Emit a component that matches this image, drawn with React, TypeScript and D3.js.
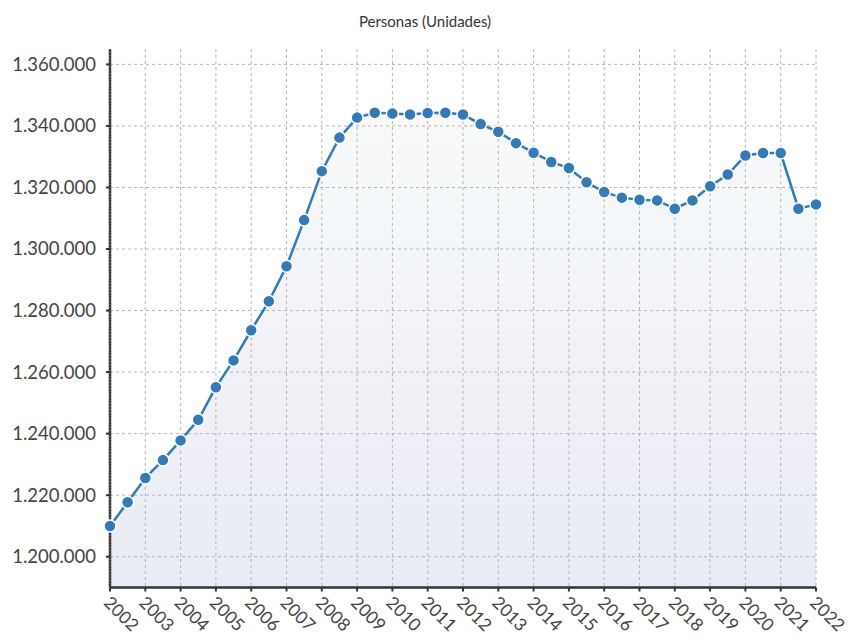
import { useMemo } from "react";
import * as d3 from "d3";

// semi-annual readings, first one at 2002, last one at 2022
const periods = [
  2002, 2002.5, 2003, 2003.5, 2004, 2004.5, 2005, 2005.5, 2006, 2006.5,
  2007, 2007.5, 2008, 2008.5, 2009, 2009.5, 2010, 2010.5, 2011, 2011.5,
  2012, 2012.5, 2013, 2013.5, 2014, 2014.5, 2015, 2015.5, 2016, 2016.5,
  2017, 2017.5, 2018, 2018.5, 2019, 2019.5, 2020, 2020.5, 2021, 2021.5, 2022,
];

const personas = [
  1210000, 1217700, 1225600, 1231400, 1237800, 1244500, 1255100, 1263800, 1273600, 1283000,
  1294400, 1309400, 1325300, 1336200, 1342700, 1344300, 1344000, 1343700, 1344200, 1344300,
  1343700, 1340600, 1338100, 1334400, 1331300, 1328300, 1326300, 1321700, 1318500, 1316700,
  1316000, 1315800, 1313100, 1315800, 1320400, 1324200, 1330400, 1331200, 1331200, 1313100, 1314500,
];

const yearTicks = d3.range(2002, 2023);
const valueTicks = [1200000, 1220000, 1240000, 1260000, 1280000, 1300000, 1320000, 1340000, 1360000];

const W = 849;
const H = 642;
const LEFT = 110;
const RIGHT = 816;
const TOP = 49;
const BOTTOM = 587.5;

const fmt = (v: number) => d3.format(",")(v).replace(/,/g, ".");

export default function App() {
  const x = useMemo(() => d3.scaleLinear().domain([2002, 2022]).range([LEFT, RIGHT]), []);
  const y = useMemo(() => d3.scaleLinear().domain([1190000, 1365000]).range([BOTTOM, TOP]), []);

  const pts = periods.map((p, i) => [p, personas[i]] as [number, number]);

  const line = d3
    .line<[number, number]>()
    .x((d) => x(d[0]))
    .y((d) => y(d[1]));

  const area = d3
    .area<[number, number]>()
    .x((d) => x(d[0]))
    .y0(BOTTOM)
    .y1((d) => y(d[1]));

  const font = "Lato, 'Open Sans', sans-serif";

  return (
    <svg
      width={W}
      height={H}
      style={{ position: "absolute", left: 0, top: 0, background: "#fff" }}
      fontFamily={font}
    >
      <defs>
        <linearGradient id="fillGrad" x1="0" y1="0" x2="0" y2="1">
          <stop offset="0%" stopColor="#f9f9f9" />
          <stop offset="25%" stopColor="#f3f7f9" />
          <stop offset="50%" stopColor="#f3f1f7" />
          <stop offset="100%" stopColor="#e8ecf5" />
        </linearGradient>
      </defs>

      <text x={425} y={27} textAnchor="middle" fontSize={15} fill="#333">
        Personas (Unidades)
      </text>

      <path d={area(pts) ?? ""} fill="url(#fillGrad)" />

      {/* grid */}
      {yearTicks.map((t) => (
        <line
          key={"gx" + t}
          x1={x(t)}
          x2={x(t)}
          y1={TOP}
          y2={BOTTOM}
          stroke="#b5b5b5"
          strokeDasharray="3,3"
        />
      ))}
      {valueTicks.map((v) => (
        <line
          key={"gy" + v}
          x1={LEFT}
          x2={RIGHT}
          y1={y(v)}
          y2={y(v)}
          stroke="#b5b5b5"
          strokeDasharray="3,3"
        />
      ))}

      {/* y axis */}
      <line x1={LEFT} x2={LEFT} y1={TOP} y2={BOTTOM} stroke="#333" strokeWidth={2.5} />
      <line x1={LEFT} x2={LEFT} y1={TOP} y2={BOTTOM} stroke="#888" strokeWidth={1} strokeDasharray="1,2" />
      {valueTicks.map((v) => (
        <g key={"ty" + v}>
          <line x1={LEFT - 4} x2={LEFT} y1={y(v)} y2={y(v)} stroke="#333" strokeWidth={2} />
          <text x={96} y={y(v)} dy="0.35em" textAnchor="end" fontSize={18.5} fill="#444">
            {fmt(v)}
          </text>
        </g>
      ))}

      {/* x axis */}
      <line x1={LEFT} x2={RIGHT} y1={BOTTOM} y2={BOTTOM} stroke="#333" strokeWidth={2.5} />
      {yearTicks.map((t) => (
        <g key={"tx" + t}>
          <line x1={x(t)} x2={x(t)} y1={BOTTOM} y2={BOTTOM + 4} stroke="#333" strokeWidth={2} />
          <text
            transform={`translate(${x(t) - 3},${BOTTOM + 12}) rotate(45)`}
            fontSize={17.5}
            fill="#444"
            dy="0.35em"
          >
            {t}
          </text>
        </g>
      ))}

      <path d={line(pts) ?? ""} fill="none" stroke="#337ab7" strokeWidth={2.5} />
      {pts.map((d, i) => (
        <circle
          key={i}
          cx={x(d[0])}
          cy={y(d[1])}
          r={6}
          fill="#337ab7"
          stroke="#fff"
          strokeWidth={1.5}
        />
      ))}
    </svg>
  );
}
